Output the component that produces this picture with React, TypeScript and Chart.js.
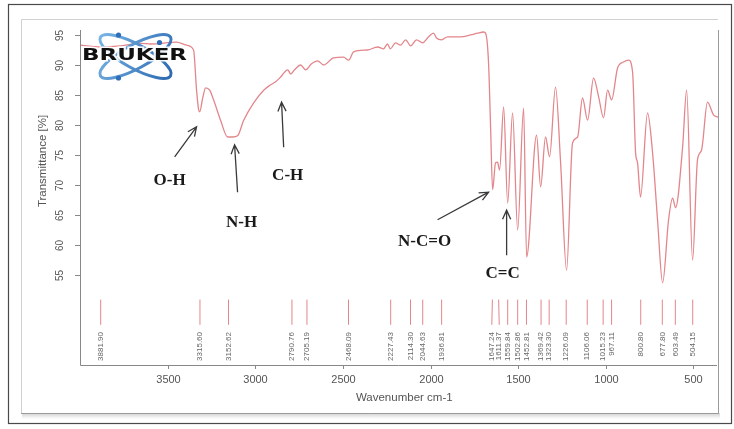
import React, { useEffect, useRef } from 'react';
import { Chart, registerables } from 'chart.js';
Chart.register(...registerables);

const W = 734;
const H = 429;

// Spectrum (wavenumber cm-1, transmittance %)
const wavenumbers = [
  4000, 3881, 3768, 3650, 3597, 3449, 3392, 3352, 3335, 3323, 3317, 3300, 3283, 3260, 3238, 3198,
  3158, 3129, 3101, 3066, 3009, 2952, 2912, 2884, 2855, 2815, 2798, 2776, 2741, 2713, 2679, 2644,
  2610, 2553, 2496, 2467, 2439, 2359, 2302, 2268, 2246, 2229, 2200, 2171, 2142, 2114, 2080, 2045,
  2011, 1983, 1966, 1937, 1903, 1829, 1772, 1732, 1697, 1686, 1669, 1657, 1646, 1629, 1618, 1606,
  1583, 1560, 1532, 1503, 1469, 1452, 1395, 1372, 1344, 1321, 1287, 1258, 1224, 1190, 1161, 1133,
  1104, 1070, 1041, 1013, 990, 967, 933, 899, 870, 847, 830, 819, 802, 762, 733, 705,
  676, 642, 619, 602, 562, 539, 505, 477, 454, 420, 386, 360,
];
const transmittance = [
  93.3, 93.0, 93.2, 93.6, 93.5, 93.8, 93.3, 92.5, 85.8, 82.5, 82.2, 84.5, 86.2, 85.8, 84.2, 80.8,
  78.0, 78.0, 78.2, 80.8, 83.7, 85.8, 86.7, 87.2, 88.0, 89.2, 88.5, 89.2, 90.0, 89.2, 90.2, 90.7,
  90.0, 91.2, 91.3, 90.8, 92.2, 92.5, 93.0, 92.7, 93.5, 92.7, 93.7, 93.3, 94.2, 93.2, 94.2, 93.7,
  94.7, 95.3, 94.5, 94.2, 94.7, 94.7, 95.0, 95.3, 95.5, 95.3, 90.3, 79.2, 69.2, 73.7, 73.8, 72.5,
  83.0, 67.0, 82.0, 62.5, 82.8, 58.0, 78.3, 69.7, 78.0, 74.7, 86.3, 73.7, 55.8, 77.0, 78.0, 84.5,
  80.8, 87.8, 84.7, 81.2, 85.8, 84.2, 89.5, 90.5, 90.8, 88.7, 75.3, 73.7, 68.0, 82.0, 75.3, 64.2,
  53.7, 64.2, 67.8, 66.2, 76.3, 85.8, 57.5, 74.2, 75.8, 83.8, 81.7, 81.3,
];

// Peak picks
const peakWavenumbers = [
  3881.9, 3315.6, 3152.62, 2790.76, 2705.19, 2468.09, 2227.43, 2114.3, 2044.63, 1936.81,
  1647.24, 1611.37, 1559.84, 1502.86, 1452.81, 1369.42, 1323.3, 1226.09, 1106.06, 1015.23,
  967.11, 800.8, 677.8, 603.49, 504.15,
];
const peakLabels = peakWavenumbers.map((v) => v.toFixed(2));

const xTicks = [3500, 3000, 2500, 2000, 1500, 1000, 500];
const yTicks = [55, 60, 65, 70, 75, 80, 85, 90, 95];

// Band annotations (in data units: wavenumber, transmittance)
const bandNames = ['O-H', 'N-H', 'C-H', 'N-C=O', 'C=C'];
const bandTextAt = [[3489, 70.7], [3078, 63.8], [2815, 71.5], [2034, 60.5], [1589, 55.3]];
const bandArrowFrom = [[3460, 74.7], [3101, 68.8], [2838, 76.3], [1960, 64.2], [1566, 58.3]];
const bandArrowTo = [[3335, 79.7], [3118, 76.7], [2850, 83.8], [1669, 68.8], [1566, 65.8]];

const LINE = '#e3868b';
const TEXT = '#555';
const AXIS = '#888';
const SANS = '"Liberation Sans", Arial, sans-serif';

function spread(px: number[], gap: number) {
  const p = px.slice();
  for (let it = 0; it < 60; it++) {
    for (let i = 0; i < p.length - 1; i++) {
      const d = p[i + 1] - p[i];
      if (d < gap) {
        const s = (gap - d) / 2;
        p[i] -= s;
        p[i + 1] += s;
      }
    }
  }
  return p;
}

function arrow(ctx: CanvasRenderingContext2D, x1: number, y1: number, x2: number, y2: number) {
  const a = Math.atan2(y2 - y1, x2 - x1);
  const L = 10;
  const s = 0.42;
  ctx.beginPath();
  ctx.moveTo(x1, y1);
  ctx.lineTo(x2, y2);
  ctx.moveTo(x2 - L * Math.cos(a - s), y2 - L * Math.sin(a - s));
  ctx.lineTo(x2, y2);
  ctx.lineTo(x2 - L * Math.cos(a + s), y2 - L * Math.sin(a + s));
  ctx.stroke();
}

export default function App() {
  const ref = useRef<HTMLCanvasElement>(null);
  useEffect(() => {
    const canvas = ref.current!;
    const decor = {
      id: 'decor',
      beforeDraw(chart: any) {
        const ctx: CanvasRenderingContext2D = chart.ctx;
        ctx.save();
        ctx.fillStyle = '#fff';
        ctx.fillRect(0, 0, W, H);
        // outer frame
        ctx.strokeStyle = '#4a4a4a';
        ctx.lineWidth = 1.2;
        ctx.strokeRect(8.5, 4.5, 723, 419);
        // inner frame with shadow
        const g = ctx.createLinearGradient(0, 413, 0, 419);
        g.addColorStop(0, 'rgba(0,0,0,0.18)');
        g.addColorStop(1, 'rgba(0,0,0,0)');
        ctx.fillStyle = g;
        ctx.fillRect(22, 413, 698, 6);
        ctx.strokeStyle = '#d0d0d0';
        ctx.lineWidth = 1;
        ctx.beginPath();
        ctx.moveTo(21.5, 413);
        ctx.lineTo(21.5, 19.5);
        ctx.lineTo(718, 19.5);
        ctx.stroke();
        ctx.strokeStyle = '#9a9a9a';
        ctx.beginPath();
        ctx.moveTo(718.5, 30);
        ctx.lineTo(718.5, 413.5);
        ctx.lineTo(21, 413.5);
        ctx.stroke();
        ctx.restore();
      },
      afterDraw(chart: any) {
        const ctx: CanvasRenderingContext2D = chart.ctx;
        const xs = chart.scales.x;
        const ys = chart.scales.y;
        const area = chart.chartArea;
        ctx.save();
        // axes
        ctx.strokeStyle = AXIS;
        ctx.lineWidth = 1;
        ctx.beginPath();
        ctx.moveTo(area.left + 0.5, area.top);
        ctx.lineTo(area.left + 0.5, area.bottom + 0.5);
        ctx.lineTo(area.right - 1, area.bottom + 0.5);
        ctx.stroke();
        // x ticks
        ctx.fillStyle = TEXT;
        ctx.font = `11px ${SANS}`;
        ctx.textAlign = 'center';
        ctx.textBaseline = 'middle';
        for (const t of xTicks) {
          const x = Math.round(xs.getPixelForValue(t)) + 0.5;
          ctx.beginPath();
          ctx.moveTo(x, area.bottom);
          ctx.lineTo(x, area.bottom + 4);
          ctx.stroke();
          ctx.fillText(String(t), x, area.bottom + 15);
        }
        // y ticks
        for (const t of yTicks) {
          const y = Math.round(ys.getPixelForValue(t)) + 0.5;
          ctx.beginPath();
          ctx.moveTo(area.left - 5, y);
          ctx.lineTo(area.left, y);
          ctx.stroke();
          ctx.save();
          ctx.translate(area.left - 20, y);
          ctx.rotate(-Math.PI / 2);
          ctx.font = `10px ${SANS}`;
          ctx.fillText(String(t), 0, 0);
          ctx.restore();
        }
        // axis titles
        ctx.font = `11.5px ${SANS}`;
        ctx.fillText('Wavenumber cm-1', (xs.getPixelForValue(2150)), area.bottom + 33);
        ctx.save();
        ctx.translate(43, ys.getPixelForValue(74));
        ctx.rotate(-Math.PI / 2);
        ctx.fillText('Transmittance [%]', 0, 0);
        ctx.restore();

        // peak markers
        const px = peakWavenumbers.map((w) => xs.getPixelForValue(w));
        const lx = spread(px, 7.4);
        const yTop = ys.getPixelForValue(50.9);
        const yBot = ys.getPixelForValue(46.7);
        const yLab = ys.getPixelForValue(45.5);
        ctx.strokeStyle = LINE;
        ctx.lineWidth = 1;
        px.forEach((x, i) => {
          ctx.beginPath();
          ctx.moveTo(x, yTop);
          ctx.lineTo(lx[i], yBot);
          ctx.stroke();
        });
        ctx.fillStyle = '#666';
        ctx.font = `8px ${SANS}`;
        ctx.textAlign = 'right';
        ctx.textBaseline = 'middle';
        lx.forEach((x, i) => {
          ctx.save();
          ctx.translate(x, yLab);
          ctx.rotate(-Math.PI / 2);
          ctx.fillText(peakLabels[i], 0, 0);
          ctx.restore();
        });

        // band annotations
        ctx.strokeStyle = '#3a3a3a';
        ctx.lineWidth = 1.3;
        ctx.fillStyle = '#1a1a1a';
        ctx.font = `bold 17px "Liberation Serif", "Times New Roman", serif`;
        ctx.textAlign = 'center';
        ctx.textBaseline = 'middle';
        bandNames.forEach((name, i) => {
          const [fw, ft] = bandArrowFrom[i];
          const [tw, tt] = bandArrowTo[i];
          arrow(ctx, xs.getPixelForValue(fw), ys.getPixelForValue(ft), xs.getPixelForValue(tw), ys.getPixelForValue(tt));
          const [lw, lt] = bandTextAt[i];
          ctx.fillText(name, xs.getPixelForValue(lw), ys.getPixelForValue(lt));
        });

        // Bruker logo
        ctx.save();
        ctx.translate(135.5, 56.5);
        const grad = ctx.createLinearGradient(-40, -20, 40, 20);
        grad.addColorStop(0, '#7bb8e6');
        grad.addColorStop(1, '#2a66b0');
        ctx.strokeStyle = grad;
        ctx.lineWidth = 3;
        for (const r of [0.5, -0.5]) {
          ctx.beginPath();
          ctx.ellipse(0, 0, 40, 12, r, 0, Math.PI * 2);
          ctx.stroke();
        }
        ctx.fillStyle = '#2f6fb8';
        for (const [dx, dy] of [[-17, -21.5], [-17, 21.5], [24, -14]]) {
          ctx.beginPath();
          ctx.arc(dx, dy, 2.6, 0, Math.PI * 2);
          ctx.fill();
        }
        ctx.restore();
        ctx.save();
        ctx.font = `bold 16px "DejaVu Sans", ${SANS}`;
        ctx.textAlign = 'left';
        ctx.textBaseline = 'middle';
        const tw = ctx.measureText('BRUKER').width;
        ctx.translate(82, 56);
        ctx.scale(105 / tw, 1);
        ctx.lineWidth = 3;
        ctx.strokeStyle = 'rgba(255,255,255,0.9)';
        ctx.strokeText('BRUKER', 0, 0);
        ctx.fillStyle = '#111';
        ctx.fillText('BRUKER', 0, 0);
        ctx.restore();

        ctx.restore();
      },
    };
    const chart = new Chart(canvas, {
      type: 'line',
      data: {
        datasets: [
          {
            data: wavenumbers.map((w, i) => ({ x: w, y: transmittance[i] })),
            borderColor: LINE,
            borderWidth: 1.3,
            pointRadius: 0,
            cubicInterpolationMode: 'monotone',
            fill: false,
          },
        ],
      },
      options: {
        responsive: false,
        animation: false,
        devicePixelRatio: 1,
        events: [],
        layout: { padding: { left: 80, top: 30, right: 16, bottom: 64 } },
        scales: {
          x: { type: 'linear', reverse: true, min: 360, max: 4000, display: false },
          y: { type: 'linear', min: 40, max: 95.83, display: false },
        },
        plugins: { legend: { display: false }, tooltip: { enabled: false } },
      },
      plugins: [decor],
    } as any);
    return () => chart.destroy();
  }, []);
  return (
    <div style={{ position: 'fixed', left: 0, top: 0, width: W, height: H, background: '#fff' }}>
      <canvas ref={ref} width={W} height={H} style={{ display: 'block', width: W, height: H }} />
    </div>
  );
}
